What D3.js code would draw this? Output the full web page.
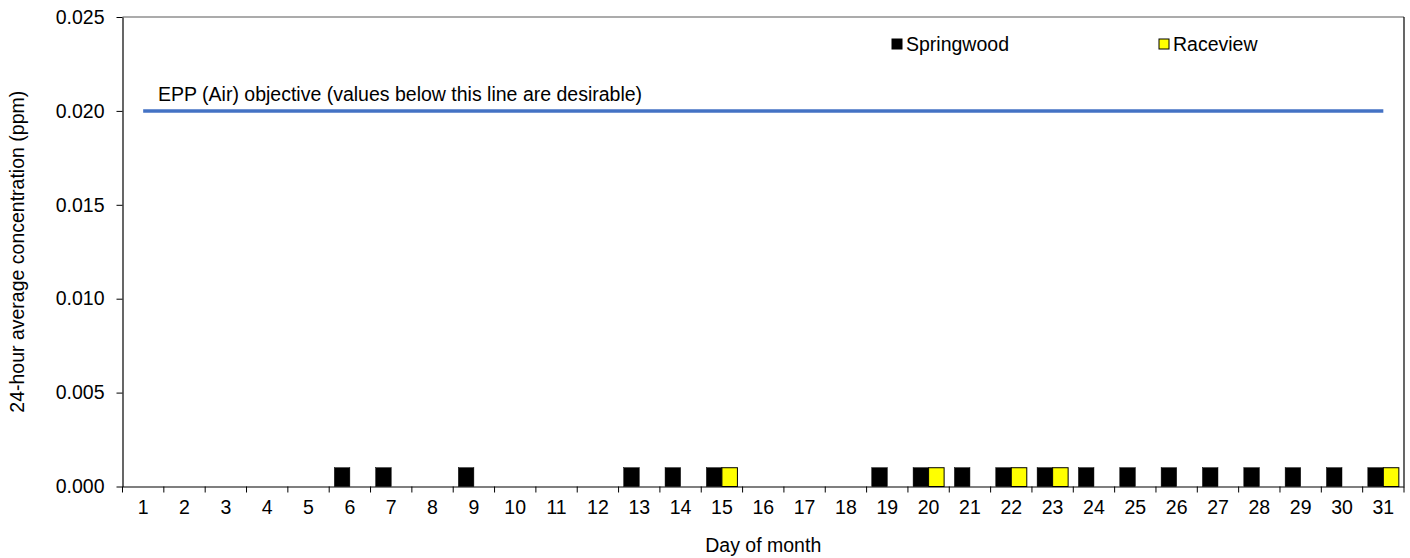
<!DOCTYPE html>
<html><head><meta charset="utf-8">
<script src="https://cdn.jsdelivr.net/npm/d3@7"></script>
<style>body{margin:0;background:#fff;}svg{display:block;font-family:Arial,"Liberation Sans",sans-serif;}</style>
</head><body><svg id="c" width="1410" height="558"></svg>
<script>
const days = d3.range(1, 32);
const springwood = [0,0,0,0,0,0.001,0.001,0,0.001,0,0,0,0.001,0.001,0.001,0,0,0,0.001,0.001,0.001,0.001,0.001,0.001,0.001,0.001,0.001,0.001,0.001,0.001,0.001];
const raceview   = [0,0,0,0,0,0,0,0,0,0,0,0,0,0,0.001,0,0,0,0,0.001,0,0.001,0.001,0,0,0,0,0,0,0,0.001];
const objective = 0.02;
const yTicks = [0, 0.005, 0.010, 0.015, 0.020, 0.025];
const seriesNames = ["Springwood", "Raceview"];
const colors = ["#000000", "#ffff00"];

const FS = 19.5;
const svg = d3.select("#c");
const m = {l:122.5, r:1404, t:17, b:486.5};
const x = d3.scaleBand().domain(days).range([m.l, m.r]).paddingInner(0).paddingOuter(0);
const y = d3.scaleLinear().domain([0, 0.025]).range([m.b, m.t]);
const xs = d3.scaleBand().domain([0,1]).range([0, x.bandwidth()]).paddingInner(0).paddingOuter(0.333);

// plot border
svg.append("line").attr("x1", m.l).attr("x2", m.r).attr("y1", m.t).attr("y2", m.t).attr("stroke", "#595959").attr("stroke-width", 1.2);
svg.append("line").attr("x1", m.r).attr("x2", m.r).attr("y1", m.t).attr("y2", m.b).attr("stroke", "#000").attr("stroke-width", 1.2);

// bars
const series = [springwood, raceview];
series.forEach((vals, si) => {
  svg.append("g").selectAll("rect").data(days.filter((d,i)=>vals[i] > 0)).join("rect")
    .attr("x", d => x(d) + xs(si))
    .attr("width", xs.bandwidth())
    .attr("y", d => y(vals[d-1]))
    .attr("height", d => y(0) - y(vals[d-1]))
    .attr("fill", colors[si])
    .attr("stroke", "#000").attr("stroke-width", si === 1 ? 1 : 0.5);
});

// y axis
const ya = svg.append("g").attr("transform", `translate(${m.l},0)`)
  .call(d3.axisLeft(y).tickValues(yTicks).tickFormat(d3.format(".3f")).tickSize(6).tickSizeOuter(0));
ya.select(".domain").attr("stroke", "#000").attr("stroke-width", 1.2);
ya.selectAll(".tick line").attr("stroke", "#000");
ya.selectAll("text").attr("font-size", FS).attr("fill", "#000").attr("x", -18).attr("font-family", "Arial, 'Liberation Sans', sans-serif");

// x axis
const xa = svg.append("g").attr("transform", `translate(0,${m.b})`)
  .call(d3.axisBottom(x).tickSize(0).tickSizeOuter(0));
xa.select(".domain").attr("stroke", "#000").attr("stroke-width", 1.2);
xa.selectAll("text").attr("font-size", FS).attr("fill", "#000").attr("y", 14).attr("dy", "0.71em").attr("font-family", "Arial, 'Liberation Sans', sans-serif");
// boundary ticks
svg.append("g").selectAll("line").data(days.concat([32])).join("line")
  .attr("x1", d => d <= 31 ? x(d) : m.r).attr("x2", d => d <= 31 ? x(d) : m.r)
  .attr("y1", m.b).attr("y2", m.b + 6).attr("stroke", "#000");

// objective line
svg.append("line")
  .attr("x1", x(1) + x.bandwidth()/2).attr("x2", x(31) + x.bandwidth()/2)
  .attr("y1", y(objective)).attr("y2", y(objective))
  .attr("stroke", "#4472C4").attr("stroke-width", 3.5);
svg.append("text").attr("x", 158).attr("y", y(objective) - 10)
  .attr("font-size", FS).attr("fill", "#000")
  .text("EPP (Air) objective (values below this line are desirable)");

// legend
const legX = [892, 1159];
seriesNames.forEach((n, i) => {
  svg.append("rect").attr("x", legX[i]).attr("y", 39).attr("width", 10).attr("height", 10)
    .attr("fill", colors[i]).attr("stroke", "#000").attr("stroke-width", 1);
  svg.append("text").attr("x", legX[i] + 14).attr("y", 51).attr("font-size", FS).attr("fill", "#000").text(n);
});

// axis titles
svg.append("text").attr("x", (m.l + m.r)/2).attr("y", 552).attr("text-anchor", "middle")
  .attr("font-size", FS).attr("fill", "#000").text("Day of month");
svg.append("text").attr("transform", `translate(24,${(m.t+m.b)/2}) rotate(-90)`).attr("text-anchor", "middle")
  .attr("font-size", FS).attr("fill", "#000").text("24-hour average concentration (ppm)");
</script></body></html>
